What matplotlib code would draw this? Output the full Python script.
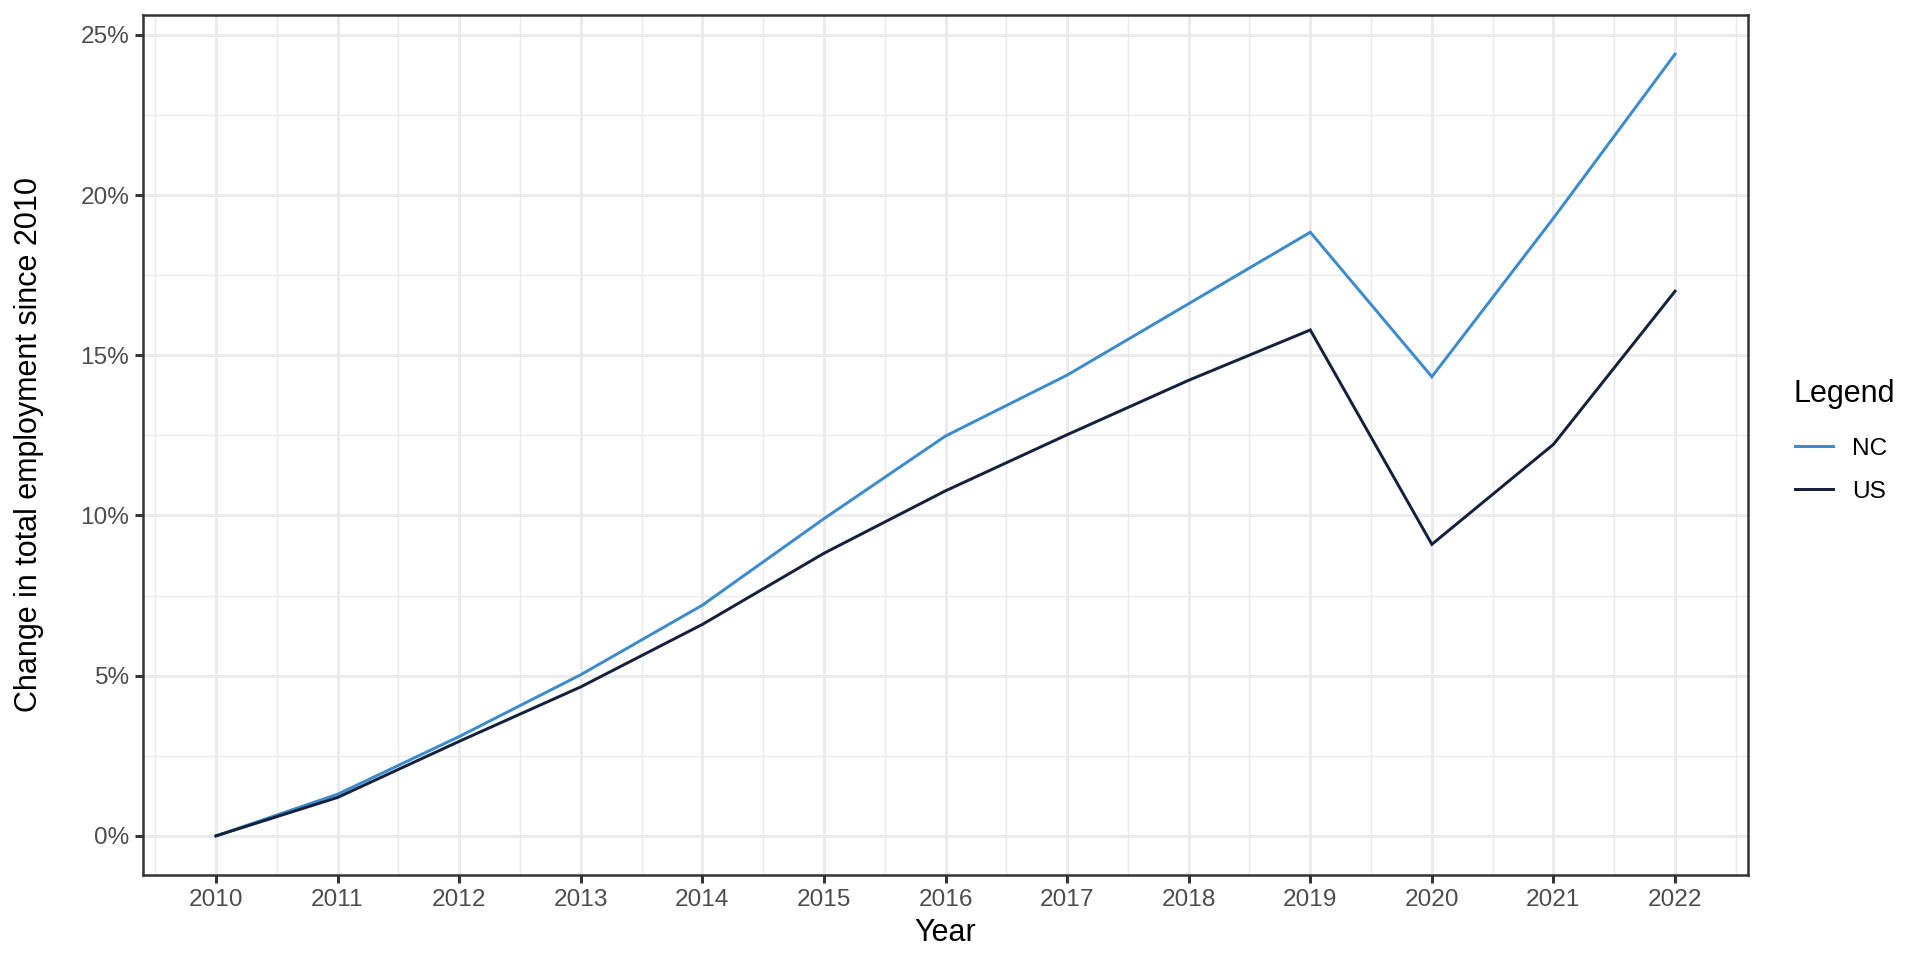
import matplotlib
matplotlib.use("Agg")
import matplotlib.pyplot as plt
from matplotlib.ticker import FixedLocator, FuncFormatter
import numpy as np

# Values (percent change in employment since 2010)
years = [2010, 2011, 2012, 2013, 2014, 2015, 2016, 2017, 2018, 2019, 2020, 2021, 2022]
nc_change = [0.0, 1.3, 3.1, 5.03, 7.2, 9.9, 12.48, 14.38, 16.61, 18.84, 14.33, 19.28, 24.4]
us_change = [0.0, 1.2, 2.95, 4.65, 6.6, 8.82, 10.77, 12.52, 14.22, 15.79, 9.1, 12.22, 17.0]
series_names = ["NC", "US"]
series_colors = ["#3d8bcf", "#14213d"]
y_ticks = [0, 5, 10, 15, 20, 25]

plt.rcParams["font.family"] = ["Liberation Sans", "DejaVu Sans"]

fig = plt.figure(figsize=(9.6, 4.8), dpi=200)
ax = fig.add_axes([143 / 1920, 1 - 875 / 960, (1748 - 143) / 1920, (875 - 15) / 960])

for name, vals, col in zip(series_names, [nc_change, us_change], series_colors):
    ax.plot(years, vals, color=col, linewidth=1.07, label=name, solid_joinstyle="miter")

# ggplot-style expansion (5% each side)
xr = years[-1] - years[0]
ax.set_xlim(years[0] - 0.05 * xr, years[-1] + 0.05 * xr)
ymax = max(max(nc_change), max(us_change))
ax.set_ylim(-0.05 * ymax, ymax * 1.05)

# ticks and grid
ax.xaxis.set_major_locator(FixedLocator(years))
ax.xaxis.set_minor_locator(FixedLocator([y - 0.5 for y in years] + [years[-1] + 0.5]))
ax.yaxis.set_major_locator(FixedLocator(y_ticks))
ax.yaxis.set_minor_locator(FixedLocator([t + 2.5 for t in y_ticks[:-1]]))
ax.yaxis.set_major_formatter(FuncFormatter(lambda v, p: "{:d}%".format(int(round(v)))))

ax.grid(which="major", color="#ebebeb", linewidth=1.07)
ax.grid(which="minor", color="#ebebeb", linewidth=0.53)
ax.set_axisbelow(True)

ax.tick_params(which="major", length=2.75, width=1.07, color="#333333",
               labelsize=8.8, labelcolor="#4d4d4d", pad=2.2)
ax.tick_params(which="minor", length=0)

for s in ax.spines.values():
    s.set_color("#333333")
    s.set_linewidth(0.9)

ax.set_xlabel("Year", fontsize=11, color="black", labelpad=2.5)
ax.set_ylabel("Change in total employment since 2010", fontsize=11, color="black")
ax.yaxis.set_label_coords(-0.0615, 0.5)

# legend, title placed separately to get the ggplot spacing
fig.text(1794 / 1920, 1 - 394 / 960, "Legend", fontsize=11, ha="left", va="center")
leg = fig.legend(loc="center left", bbox_to_anchor=(1795 / 1920, 1 - 470 / 960),
                 frameon=False, fontsize=8.8,
                 handlelength=1.55, handletextpad=0.8, labelspacing=0.85,
                 borderpad=0, borderaxespad=0)

fig.savefig("out.png", dpi=200, facecolor="white")
